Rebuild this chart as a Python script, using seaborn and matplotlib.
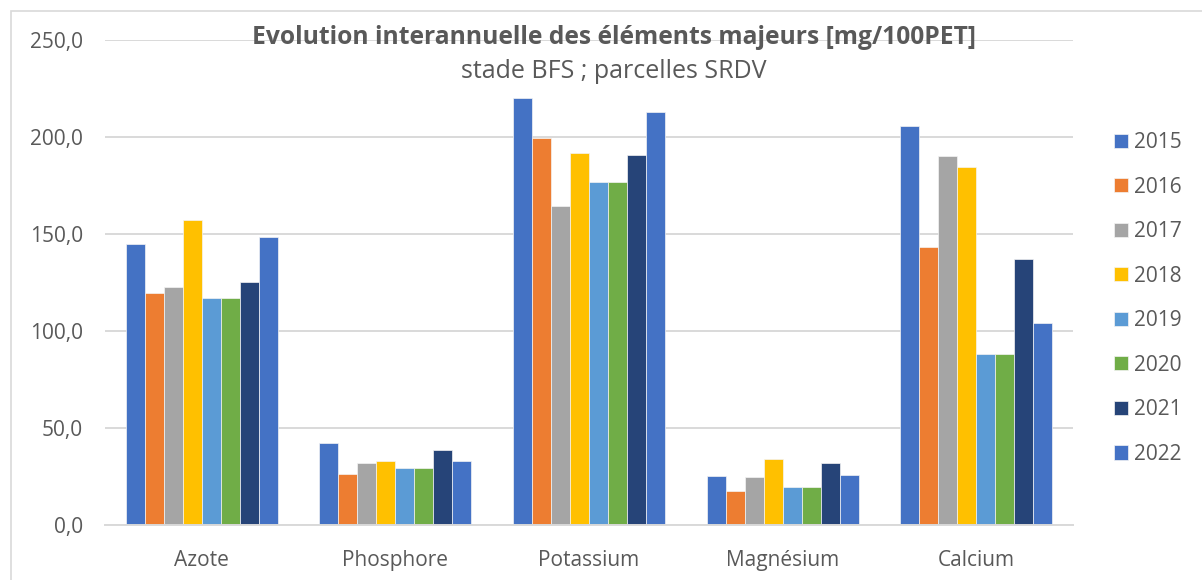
import matplotlib
matplotlib.use("Agg")
import matplotlib.pyplot as plt
import seaborn as sns
import pandas as pd
from matplotlib.patches import Rectangle
from matplotlib.ticker import FuncFormatter

categories = ["Azote", "Phosphore", "Potassium", "Magnésium", "Calcium"]
years = ["2015", "2016", "2017", "2018", "2019", "2020", "2021", "2022"]
v2015 = [145.0, 42.3, 220.0, 25.1, 205.5]
v2016 = [119.6, 26.2, 199.6, 17.4, 143.2]
v2017 = [122.5, 31.7, 164.5, 24.8, 190.0]
v2018 = [157.3, 33.0, 191.7, 33.8, 184.3]
v2019 = [117.0, 29.1, 177.0, 19.5, 88.3]
v2020 = [117.0, 29.1, 177.0, 19.5, 88.3]
v2021 = [125.0, 38.7, 190.5, 31.7, 136.8]
v2022 = [148.4, 33.0, 213.0, 25.5, 104.0]
series = [v2015, v2016, v2017, v2018, v2019, v2020, v2021, v2022]
colors = ["#4472C4", "#ED7D31", "#A5A5A5", "#FFC000", "#5B9BD5", "#70AD47", "#264478", "#4472C5"]

rows = []
for y, vals in zip(years, series):
    for c, v in zip(categories, vals):
        rows.append({"element": c, "year": y, "value": v})
df = pd.DataFrame(rows)

sns.set_style("white")
plt.rcParams['font.family'] = ['Open Sans', 'DejaVu Sans']
txt = "#595959"

fig = plt.figure(figsize=(12.02, 5.80), dpi=100)
ax = fig.add_axes([105/1202, 1-524.7/580, (1073-105)/1202, (524.7-40)/580])
sns.barplot(data=df, x="element", y="value", hue="year", order=categories, hue_order=years,
            palette=colors, width=0.785, ax=ax, edgecolor="#F4F4F4", linewidth=0.5,
            saturation=1, legend=True)
ax.set_ylim(0, 250)
ax.set_xlim(-0.5, 4.5)
ax.set_yticks([0, 50, 100, 150, 200, 250])
ax.yaxis.set_major_formatter(FuncFormatter(lambda v, p: f"{v:.1f}".replace(".", ",")))
ax.grid(axis="y", color="#D9D9D9", linewidth=1.4)
ax.set_axisbelow(True)
for s in ["left", "right", "top"]:
    ax.spines[s].set_visible(False)
ax.spines["bottom"].set_color("#D9D9D9")
ax.spines["bottom"].set_linewidth(1.4)
ax.tick_params(axis="y", length=0, labelsize=15, colors=txt, pad=16)
ax.tick_params(axis="x", length=0, labelsize=15, colors=txt, pad=18)
ax.set_xlabel("")
ax.set_ylabel("")

handles, labels = ax.get_legend_handles_labels()
ax.get_legend().remove()
leg = fig.legend(handles, labels, loc="upper left", bbox_to_anchor=(1114/1202, 1-132/580),
                 frameon=False, fontsize=15, handlelength=0.67, handleheight=0.67,
                 handletextpad=0.3, labelspacing=1.13, borderpad=0, borderaxespad=0,
                 labelcolor=txt)

fig.text(614/1202, 1-37/580, "Evolution interannuelle des éléments majeurs [mg/100PET]",
         ha="center", va="center", fontsize=17.7, fontweight="bold", color=txt)
fig.text(614/1202, 1-71/580, "stade BFS ; parcelles SRDV",
         ha="center", va="center", fontsize=18, color=txt)

fig.patches.append(Rectangle((11/1202, -0.1), 1.2, 1-11/580+0.1, transform=fig.transFigure,
                             fill=False, edgecolor="#D9D9D9", linewidth=1.2))

fig.savefig("out.png", dpi=100)
